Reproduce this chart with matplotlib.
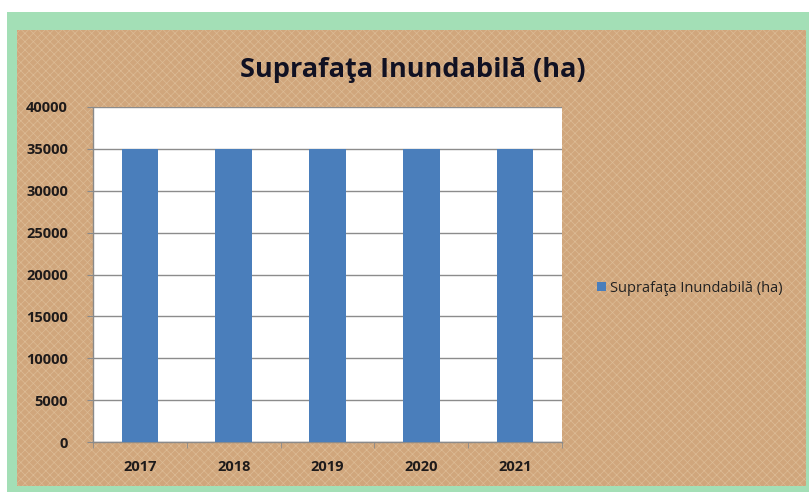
import matplotlib.pyplot as plt
from matplotlib.patches import Rectangle
import numpy as np

years = ['2017', '2018', '2019', '2020', '2021']
area_ha = [35000, 35000, 35000, 35000, 35000]
y_ticks = [0, 5000, 10000, 15000, 20000, 25000, 30000, 35000, 40000]
title = 'Suprafaţa Inundabilă (ha)'

W, H = 809, 492
plt.rcParams['font.family'] = ['Open Sans', 'DejaVu Sans']
plt.rcParams['hatch.linewidth'] = 0.5

fig = plt.figure(figsize=(W / 100, H / 100), dpi=100)
fig.patch.set_facecolor('white')

def box(x0, y0, x1, y1):
    # pixel box (top-left origin) -> figure fraction rectangle
    return (x0 / W, 1 - y1 / H), (x1 - x0) / W, (y1 - y0) / H

# green frame and textured tan chart area, kept behind the axes
xy, w, h = box(7, 12, 809, 492)
fig.patches.append(Rectangle(xy, w, h, transform=fig.transFigure,
                             facecolor='#a3dfb6', edgecolor='none', zorder=-3))
xy, w, h = box(17, 30, 806, 486)
fig.patches.append(Rectangle(xy, w, h, transform=fig.transFigure,
                             facecolor='#d0a67c', edgecolor='#dcbb95',
                             hatch='xxxx', linewidth=0, zorder=-2))

xy, w, h = box(93, 107, 562, 442)
ax = fig.add_axes([xy[0], xy[1], w, h])
ax.set_facecolor('white')

x = np.arange(len(years))
ax.bar(x, area_ha, width=0.39, color='#4a7ebb', zorder=3,
       label=title)

ax.set_xlim(-0.5, len(years) - 0.5)
ax.set_ylim(0, 40000)
ax.set_yticks(y_ticks)
ax.set_yticklabels([str(v) for v in y_ticks], fontsize=10.5,
                   fontweight='bold', color='#1e1a1a')
ax.set_xticks(x)
ax.set_xticklabels(years, fontsize=10.5, fontweight='bold', color='#1e1a1a')
ax.set_xticks(np.arange(-0.5, len(years)), minor=True)
ax.tick_params(axis='x', which='major', length=0, pad=13)
ax.tick_params(axis='x', which='minor', length=4, color='#8a8a8a')
ax.tick_params(axis='y', length=4, color='#8a8a8a', pad=14)
ax.grid(axis='y', color='#8c8c8c', linewidth=1.0, zorder=1)
for s in ['top', 'right']:
    ax.spines[s].set_visible(False)
for s in ['left', 'bottom']:
    ax.spines[s].set_color('#8a8a8a')
    ax.spines[s].set_linewidth(1.0)

fig.text(413 / W, 1 - 70 / H, title, ha='center', va='center',
         fontsize=19.5, fontweight='bold', color='#111122')

fig.legend(loc='center left', bbox_to_anchor=(584 / W, 1 - 288 / H),
           frameon=False, fontsize=10.5, handlelength=0.6, handleheight=0.6,
           handletextpad=0.3, labelcolor='#222222')

fig.savefig('out.png', dpi=100)
